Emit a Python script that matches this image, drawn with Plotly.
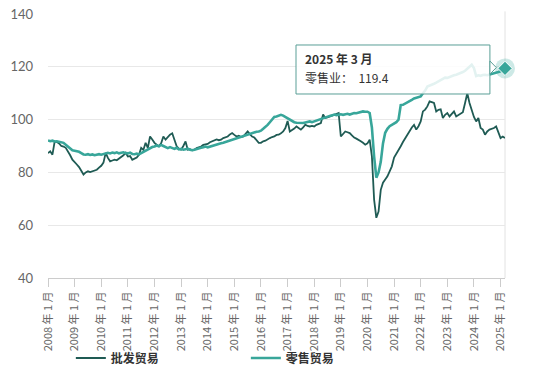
import plotly.graph_objects as go

# ---- data ----
years = list(range(2008, 2026))
months = [f"{y} 年 {m} 月" for y in years for m in range(1, 13)][:207]
tick_labels = [f"{y} 年 1 月" for y in years]

wholesale = [
    # 2008
    87.3, 88.0, 86.7, 91.7, 91.5, 91.0, 90.0, 89.8, 89.3, 88.0, 86.5, 84.8,
    # 2009
    84.0, 83.0, 82.0, 80.5, 79.2, 80.0, 80.4, 80.1, 80.4, 80.5, 81.0, 81.8,
    # 2010
    82.5, 83.7, 87.4, 85.5, 84.2, 84.5, 84.8, 84.6, 85.2, 85.6, 86.5, 87.4,
    # 2011
    86.0, 86.2, 84.8, 85.2, 85.6, 86.7, 89.3, 88.5, 91.2, 89.3, 93.6, 92.5,
    # 2012
    91.2, 90.5, 89.9, 91.0, 93.6, 92.4, 93.5, 94.3, 94.8, 92.0, 89.9, 89.0,
    # 2013
    88.6, 90.0, 91.7, 88.6, 88.8, 88.4, 88.6, 89.2, 89.4, 89.8, 90.4, 90.5,
    # 2014
    90.8, 91.4, 91.7, 92.0, 92.5, 92.2, 92.4, 93.0, 93.2, 93.6, 94.4, 94.9,
    # 2015
    94.2, 93.6, 93.9, 93.4, 93.6, 94.5, 95.5, 94.5, 93.6, 93.2, 92.2, 91.2,
    # 2016
    91.2, 91.8, 92.0, 92.6, 93.0, 93.4, 93.6, 94.2, 94.3, 94.8, 95.5, 96.8,
    # 2017
    99.5, 95.5, 96.0, 96.6, 97.4, 96.8, 96.2, 97.0, 98.1, 97.6, 97.4, 97.6,
    # 2018
    97.4, 98.0, 98.4, 98.7, 101.9, 100.6, 100.8, 101.2, 101.5, 101.9, 102.2, 102.5,
    # 2019
    93.6, 94.5, 95.5, 95.2, 94.9, 94.0, 93.2, 92.8, 92.4, 91.8, 91.2, 90.5,
    # 2020
    91.0, 92.4, 86.1, 69.7, 62.8, 65.2, 73.4, 76.1, 77.3, 78.5, 80.4, 82.3,
    # 2021
    85.6, 87.0, 88.0, 89.9, 91.5, 93.0, 94.3, 95.5, 97.0, 98.0, 96.2, 97.5,
    # 2022
    99.3, 103.1, 103.8, 105.0, 106.9, 106.6, 106.3, 103.1, 103.7, 103.9, 100.6, 101.8,
    # 2023
    102.5, 101.2, 102.0, 103.1, 101.2, 101.8, 102.5, 102.8, 106.3, 110.0, 106.3, 103.1,
    # 2024
    101.0, 99.3, 100.6, 96.8, 96.2, 94.3, 95.5, 96.2, 96.5, 96.8, 97.4, 94.9,
    # 2025
    93.0, 93.6, 93.0,
]

retail = [
    # 2008
    92.1, 91.8, 92.0, 91.7, 91.8, 91.6, 91.5, 91.2, 90.5, 89.8, 88.8, 88.4,
    # 2009
    88.2, 88.0, 87.8, 87.3, 86.8, 86.7, 86.9, 86.6, 86.8, 86.5, 86.7, 86.9,
    # 2010
    86.7, 86.9, 87.1, 87.4, 87.2, 87.5, 87.3, 87.6, 87.2, 87.4, 87.6, 87.3,
    # 2011
    87.2, 87.5, 87.0, 86.9, 87.1, 86.8, 87.3, 87.9, 88.4, 88.6, 89.2, 89.6,
    # 2012
    89.8, 90.2, 89.9, 90.4, 90.0, 89.6, 89.2, 89.6, 89.2, 88.9, 89.3, 88.7,
    # 2013
    88.9, 88.6, 88.8, 89.0, 88.6, 88.4, 88.6, 88.9, 89.1, 89.3, 89.5, 89.8,
    # 2014
    89.5, 89.8, 90.0, 90.3, 90.6, 90.8, 91.0, 91.2, 91.5, 91.7, 92.0, 92.4,
    # 2015
    92.7, 93.0, 93.2, 93.5, 93.9, 94.1, 94.4, 94.7, 95.0, 95.2, 95.4, 95.5,
    # 2016
    95.8, 96.5, 97.2, 98.0, 99.0, 100.0, 101.0, 101.2, 101.5, 101.8, 101.5, 101.0,
    # 2017
    100.5, 99.8, 99.3, 99.0, 98.8, 98.7, 98.8, 98.7, 98.9, 99.0, 99.3, 99.0,
    # 2018
    99.3, 99.5, 99.8, 100.2, 100.6, 101.0, 101.2, 101.4, 101.6, 101.9, 101.7, 101.9,
    # 2019
    102.0, 101.8, 102.0, 102.2, 101.9, 102.3, 102.5, 102.4, 102.7, 102.9, 103.1, 103.0,
    # 2020
    103.0, 102.5, 97.0, 86.0, 78.0, 80.0, 84.0, 91.0, 95.0, 96.5, 97.5, 98.0,
    # 2021
    98.5, 99.0, 100.0, 105.5, 105.6, 106.0, 106.5, 107.0, 107.5, 108.0, 108.3, 108.6,
    # 2022
    108.8, 110.0, 111.0, 112.5, 112.8, 113.2, 113.6, 114.0, 114.4, 114.8, 115.2, 115.9,
    # 2023
    115.8, 116.2, 116.5, 116.8, 117.0, 117.3, 117.8, 118.0, 118.5, 119.2, 120.0, 120.8,
    # 2024
    119.5, 116.5, 116.8, 116.6, 116.9, 117.0, 116.8, 117.0, 117.2, 117.6, 117.8, 118.0,
    # 2025
    118.3, 118.8, 119.4,
]

y_ticks = [40, 60, 80, 100, 120, 140]
tooltip_title = "2025 年 3 月"
tooltip_label = "零售业："

DARK = "#1f5b54"
TEAL = "#38a69a"
FONT = "Noto Sans CJK SC, Noto Sans, sans-serif"

fig = go.Figure()
fig.add_trace(go.Scatter(x=months, y=wholesale, name="批发贸易", mode="lines",
                         line=dict(color=DARK, width=1.8), hoverinfo="skip"))
fig.add_trace(go.Scatter(x=months, y=retail, name="零售贸易", mode="lines",
                         line=dict(color=TEAL, width=2.6), hoverinfo="skip"))
# highlighted last point (halo + diamond)
fig.add_trace(go.Scatter(x=[months[-1]], y=[retail[-1]], mode="markers",
                         marker=dict(size=20, color="rgba(56,166,154,0.25)"),
                         showlegend=False, cliponaxis=False, hoverinfo="skip"))
fig.add_trace(go.Scatter(x=[months[-1]], y=[retail[-1]], mode="markers",
                         marker=dict(size=11, symbol="diamond", color=TEAL,
                                     line=dict(color="white", width=1)),
                         showlegend=False, cliponaxis=False, hoverinfo="skip"))

# crosshair line at the right edge
fig.add_shape(type="line", xref="paper", yref="paper", x0=1, x1=1, y0=0, y1=1.01,
              line=dict(color="#e2e2e2", width=1), layer="below")

# tooltip box
fig.add_shape(type="rect", xref="paper", yref="paper",
              x0=0.5427, x1=0.967, y0=0.697, y1=0.8826,
              fillcolor="rgba(255,255,255,0.86)", line=dict(color="#5a9f97", width=1),
              layer="above")
fig.add_shape(type="path", xref="paper", yref="paper",
              path="M 0.967,0.822 L 0.981,0.797 L 0.967,0.772 Z",
              fillcolor="rgba(255,255,255,0.9)", line=dict(color="#5a9f97", width=1),
              layer="above")
fig.add_annotation(xref="paper", yref="paper", x=0.558, y=0.833, xanchor="left", yanchor="middle",
                   showarrow=False, align="left",
                   text=f"<b>{tooltip_title}</b>",
                   font=dict(family=FONT, size=12, color="#333333"))
fig.add_annotation(xref="paper", yref="paper", x=0.558, y=0.76, xanchor="left", yanchor="middle",
                   showarrow=False, align="left",
                   text=f"{tooltip_label}  {retail[-1]}",
                   font=dict(family=FONT, size=12, color="#333333"))

fig.update_layout(
    width=534, height=375,
    margin=dict(l=48, r=29, t=14, b=97, autoexpand=False),
    paper_bgcolor="white", plot_bgcolor="white",
    font=dict(family=FONT, color="#666666"),
    showlegend=True,
    legend=dict(orientation="h", x=0.05, y=-0.303, xanchor="left", yanchor="middle",
                entrywidth=130, entrywidthmode="pixels",
                font=dict(family=FONT, size=12, color="#333333", weight=700),
                bgcolor="rgba(0,0,0,0)"),
)
fig.update_xaxes(type="category", range=[0, 206], automargin=False,
                 tickmode="array", tickvals=[f"{y} 年 1 月" for y in years], ticktext=tick_labels,
                 tickangle=-90, ticks="outside", ticklen=8, tickcolor="#cccccc",
                 showline=True, linecolor="#cccccc", linewidth=1, showgrid=False,
                 tickfont=dict(family=FONT, size=11, color="#666666"))
fig.update_yaxes(range=[40, 140], tickvals=y_ticks, showgrid=True, gridcolor="#e8e8e8",
                 zeroline=False, showline=False, ticks="", ticklabelstandoff=14, automargin=False,
                 tickfont=dict(family="Lato, Noto Sans, sans-serif", size=13, color="#666666"))

fig.write_html("out.html")
